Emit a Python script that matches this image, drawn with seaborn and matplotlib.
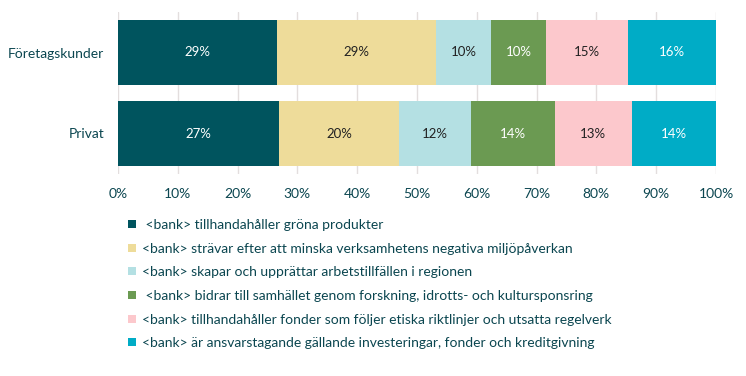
import numpy as np
import pandas as pd
import matplotlib.pyplot as plt
from matplotlib.lines import Line2D
import seaborn as sns

sns.set_theme(style="white")
plt.rcParams['font.family'] = ['Lato', 'DejaVu Sans']

TEXT = '#0b4650'

groups = ['Företagskunder', 'Privat']
series = [
    ' <bank> tillhandahåller gröna produkter',
    '<bank> strävar efter att minska verksamhetens negativa miljöpåverkan',
    '<bank> skapar och upprättar arbetstillfällen i regionen',
    ' <bank> bidrar till samhället genom forskning, idrotts- och kultursponsring',
    '<bank> tillhandahåller fonder som följer etiska riktlinjer och utsatta regelverk',
    '<bank> är ansvarstagande gällande investeringar, fonder och kreditgivning',
]
foretag = [29, 29, 10, 10, 15, 16]
privat = [27, 20, 12, 14, 13, 14]

colors = ['#00545e', '#eedc9a', '#b4e0e3', '#6b9a52', '#fcc8cc', '#00acc6']
label_colors = ['white', '#222222', '#222222', 'white', '#222222', 'white']

# normalisera till 100 %
raw = pd.DataFrame([foretag, privat], index=groups, columns=series)
share = raw.div(raw.sum(axis=1), axis=0) * 100
cum = share.cumsum(axis=1)

fig = plt.figure(figsize=(7.46, 3.76), dpi=100)
ax = fig.add_axes([118 / 746, 1 - 174 / 376, 598 / 746, 162 / 376])

# staplade staplar: rita kumulativa summor bakifrån
for i in range(len(series) - 1, -1, -1):
    d = pd.DataFrame({'grupp': groups, 'v': cum.iloc[:, i].values})
    sns.barplot(data=d, y='grupp', x='v', order=groups, color=colors[i],
                saturation=1, width=0.8, linewidth=0, ax=ax, zorder=2)

for gi, g in enumerate(groups):
    for i in range(len(series)):
        mid = cum.loc[g].iloc[i] - share.loc[g].iloc[i] / 2
        ax.text(mid, gi, f"{raw.loc[g].iloc[i]}%", ha='center', va='center',
                fontsize=9.5, color=label_colors[i], zorder=3)

ax.set_xlim(0, 100)
ax.set_ylim(1.5, -0.5)
ax.set_xticks(np.arange(0, 101, 10))
ax.set_xticklabels([f"{t}%" for t in range(0, 101, 10)])
ax.grid(axis='x', color='#e3dede', linewidth=1, zorder=0)
ax.set_axisbelow(True)
ax.set_xlabel('')
ax.set_ylabel('')
for s in ax.spines.values():
    s.set_visible(False)
ax.tick_params(axis='x', colors=TEXT, labelsize=10, pad=10, length=0)
ax.tick_params(axis='y', colors=TEXT, labelsize=10, pad=10, length=0)

handles = [Line2D([], [], marker='s', linestyle='', markersize=6,
                  markerfacecolor=c, markeredgewidth=0, label=l)
           for c, l in zip(colors, series)]
leg = fig.legend(handles=handles, loc='upper left',
                 bbox_to_anchor=(128 / 746, 1 - 219 / 376),
                 frameon=False, fontsize=10, labelspacing=0.84,
                 handlelength=0.6, handletextpad=0.4,
                 borderaxespad=0, borderpad=0)
for t in leg.get_texts():
    t.set_color(TEXT)

fig.savefig('out.png', dpi=100)
